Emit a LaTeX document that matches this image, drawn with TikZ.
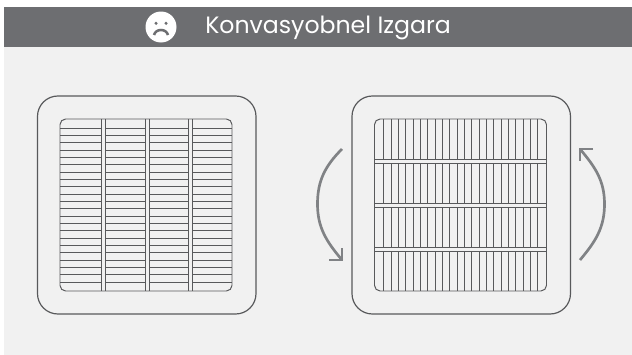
\documentclass[tikz,border=0pt]{standalone}
\usepackage{fontspec}
\setmainfont{Poppins}
\usepackage{xcolor}
\usetikzlibrary{positioning}
\definecolor{headgray}{HTML}{6D6E71}
\definecolor{panelgray}{HTML}{F1F1F1}
\definecolor{linegray}{HTML}{58595B}
\definecolor{arrowgray}{HTML}{808285}
\tikzset{
	gridline/.style={line width=0.7pt, draw=linegray},
	framebox/.style={line width=0.85pt, draw=linegray, rounded corners=14.5pt},
	gridbox/.style={line width=0.7pt, draw=linegray, rounded corners=4pt},
	barfill/.style={fill=panelgray, draw=none},
	turnarrow/.style={line width=1.9pt, draw=arrowgray, line cap=butt},
}
\begin{document}
\begin{tikzpicture}[x=0.025cm,y=-0.025cm]
	\useasboundingbox (0,0) rectangle (632,355);
	\fill [white] (0,0) rectangle (632,355);
	\fill [panelgray] (4,7) rectangle (632,355);
	\fill [headgray] (4,7) rectangle (632,46.5);

	% header
	\fill [white] (161,27) circle (15.5);
	\fill [headgray] (156,23.3) circle (1.7);
	\fill [headgray] (166,23.3) circle (1.7);
	\draw [headgray, line width=1.8pt] (154,35) to [out=75,in=180] (161,30) to [out=0,in=105] (168,35);
	\node [white, font=\fontsize{16.8}{20}\selectfont, anchor=base west, inner sep=0pt] (title) at (205,33.5) {Konvasyobnel Izgara};

	% left panel
	\draw [framebox] (37.5,96) rectangle (256,314);
	\foreach \row in {0,...,21}
		\draw [gridline] (60,128+7.333*\row) -- (232,128+7.333*\row);
	\foreach \bar in {101,145,188}{
		\fill [barfill] (\bar,119) rectangle (\bar+4,291);
		\draw [gridline] (\bar+0.3,119) -- (\bar+0.3,291);
		\draw [gridline] (\bar+4.3,119) -- (\bar+4.3,291);
	}
	\draw [gridbox] (60,119) rectangle (232,291);

	% right panel
	\draw [framebox] (352,96) rectangle (570.5,314);
	\foreach \col in {0,...,21}
		\draw [gridline] (383.7+7.333*\col,119) -- (383.7+7.333*\col,291);
	\foreach \bar in {159.5,203,247}{
		\fill [barfill] (374.5,\bar) rectangle (546.5,\bar+4);
		\draw [gridline] (374.5,\bar) -- (546.5,\bar);
		\draw [gridline] (374.5,\bar+4) -- (546.5,\bar+4);
	}
	\draw [gridbox] (374.5,119) rectangle (546.5,291);

	% arrows
	\draw [turnarrow] (342,149) to [out=-135,in=90] (317.5,204) to [out=-90,in=130] (342,260);
	\draw [turnarrow] (329,260) -- (342,260) -- (342,248);
	\draw [turnarrow] (580,260) to [out=50,in=-90] (604.5,204) to [out=90,in=-50] (580,149);
	\draw [turnarrow] (593,149) -- (580,149) -- (580,161);
\end{tikzpicture}
\end{document}
